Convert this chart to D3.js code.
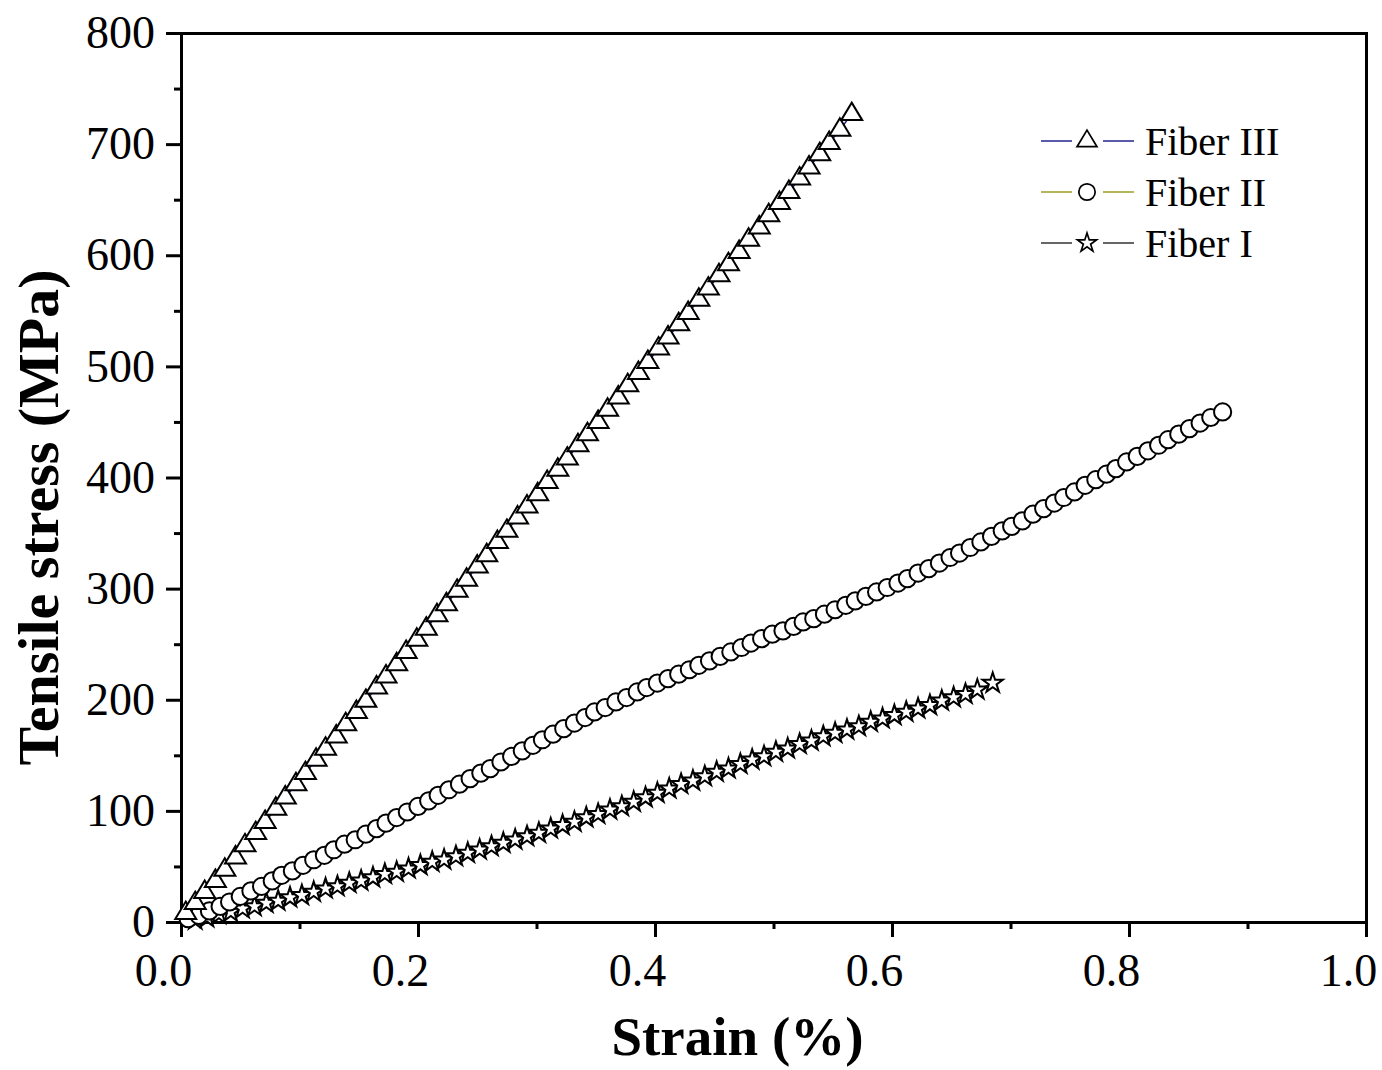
<!DOCTYPE html>
<html>
<head>
<meta charset="utf-8">
<title>Tensile stress vs strain</title>
<script src="https://cdn.jsdelivr.net/npm/d3@7"></script>
<style>
    body { margin: 0; background: #fff; }
    #chart-area { width: 1382px; height: 1070px; }
    text { font-family: "Times New Roman", "Liberation Serif", serif; fill: #000; }
</style>
</head>
<body>
<div id="chart-area"></div>
<script>

// ---- data ----
let seriesNames = ["Fiber III", "Fiber II", "Fiber I"];
let seriesColors = ["#23238f", "#9c9c22", "#333333"];
let seriesSymbols = ["triangle", "circle", "star"];

let xTicks = [0, 0.2, 0.4, 0.6, 0.8, 1.0];
let yTicks = [0, 100, 200, 300, 400, 500, 600, 700, 800];

let fiber3Strain = [0.004, 0.012, 0.020, 0.029, 0.037, 0.046, 0.054, 0.063, 0.071, 0.080, 0.088, 0.097, 0.105, 0.114,
    0.122, 0.131, 0.139, 0.148, 0.156, 0.165, 0.173, 0.182, 0.190, 0.199, 0.207, 0.216, 0.224, 0.233, 0.241, 0.250,
    0.258, 0.267, 0.275, 0.284, 0.292, 0.301, 0.309, 0.318, 0.326, 0.335, 0.343, 0.352, 0.360, 0.369, 0.377, 0.386,
    0.394, 0.403, 0.411, 0.420, 0.428, 0.437, 0.445, 0.454, 0.462, 0.471, 0.479, 0.488, 0.496, 0.505, 0.513, 0.522,
    0.530, 0.539, 0.547, 0.556, 0.566];
let fiber3Stress = [8, 17, 27, 37, 47, 58, 69, 80, 90, 102, 112, 124, 134, 146,
    156, 167, 178, 189, 199, 211, 221, 232, 243, 254, 264, 276, 286, 298, 308, 320,
    330, 342, 352, 364, 374, 385, 396, 407, 417, 429, 439, 450, 461, 472, 483, 494,
    504, 516, 526, 538, 548, 560, 570, 582, 592, 603, 614, 625, 636, 647, 657, 669,
    679, 691, 701, 713, 727];

let fiber2Strain = [0.006, 0.015, 0.024, 0.033, 0.041, 0.050, 0.059, 0.068, 0.077, 0.085, 0.094, 0.103, 0.112, 0.121,
    0.129, 0.138, 0.147, 0.156, 0.165, 0.173, 0.182, 0.191, 0.200, 0.209, 0.217, 0.226, 0.235, 0.244, 0.253, 0.261,
    0.270, 0.279, 0.288, 0.297, 0.305, 0.314, 0.323, 0.332, 0.341, 0.349, 0.358, 0.367, 0.376, 0.385, 0.393, 0.402,
    0.411, 0.420, 0.429, 0.437, 0.446, 0.455, 0.464, 0.473, 0.481, 0.490, 0.499, 0.508, 0.517, 0.525, 0.534, 0.543,
    0.552, 0.561, 0.569, 0.578, 0.587, 0.596, 0.605, 0.613, 0.622, 0.631, 0.640, 0.649, 0.657, 0.666, 0.675, 0.684,
    0.693, 0.701, 0.710, 0.719, 0.728, 0.737, 0.745, 0.754, 0.763, 0.772, 0.781, 0.789, 0.798, 0.807, 0.816, 0.825,
    0.833, 0.842, 0.851, 0.860, 0.869, 0.879];
let fiber2Stress = [3, 6, 10, 14, 18, 23, 28, 32, 37, 42, 46, 51, 56, 60,
    65, 70, 74, 79, 84, 89, 94, 99, 104, 109, 114, 119, 124, 129, 134, 138,
    144, 149, 154, 159, 164, 169, 174, 179, 184, 189, 193, 198, 202, 207, 211, 215,
    219, 223, 227, 231, 235, 239, 243, 247, 251, 255, 259, 262, 266, 270, 273, 277,
    281, 285, 289, 293, 297, 301, 305, 309, 314, 318, 323, 328, 332, 337, 342, 347,
    352, 356, 361, 367, 372, 377, 382, 387, 393, 398, 403, 408, 414, 419, 424, 429,
    434, 439, 444, 449, 454, 459];

let fiber1Strain = [0.012, 0.022, 0.032, 0.042, 0.052, 0.062, 0.072, 0.082, 0.092, 0.102, 0.112, 0.122, 0.132, 0.142,
    0.152, 0.162, 0.172, 0.182, 0.192, 0.202, 0.212, 0.222, 0.232, 0.242, 0.252, 0.262, 0.272, 0.282, 0.292, 0.302,
    0.312, 0.322, 0.332, 0.342, 0.352, 0.362, 0.372, 0.382, 0.392, 0.402, 0.412, 0.422, 0.432, 0.442, 0.452, 0.462,
    0.472, 0.482, 0.492, 0.502, 0.512, 0.522, 0.532, 0.542, 0.552, 0.562, 0.572, 0.582, 0.592, 0.602, 0.612, 0.622,
    0.632, 0.642, 0.652, 0.662, 0.672, 0.685];
let fiber1Stress = [2, 4, 7, 9, 12, 14, 17, 19, 22, 24, 27, 30, 32, 35,
    37, 40, 43, 45, 48, 51, 54, 56, 59, 62, 65, 68, 71, 74, 77, 80,
    84, 87, 90, 94, 97, 101, 104, 108, 112, 116, 120, 124, 127, 131, 135, 138,
    142, 146, 149, 153, 156, 160, 163, 167, 170, 173, 176, 180, 183, 186, 189, 192,
    195, 199, 202, 205, 209, 215];


class StressStrainVis {

    constructor(parentElement) {
        this.parentElement = parentElement;
        this.displayData = [];
        this.initVis();
    }

    initVis() {
        let vis = this;

        // margin conventions
        vis.margin = {top: 33, right: 16, bottom: 148, left: 181};
        vis.width = 1382 - vis.margin.left - vis.margin.right;
        vis.height = 1070 - vis.margin.top - vis.margin.bottom;

        vis.svg = d3.select("#" + vis.parentElement).append("svg")
            .attr("width", vis.width + vis.margin.left + vis.margin.right)
            .attr("height", vis.height + vis.margin.top + vis.margin.bottom)
            .append("g")
            .attr("transform", `translate(${vis.margin.left}, ${vis.margin.top})`);

        vis.x = d3.scaleLinear().domain([0, 1.0]).range([0, vis.width]);
        vis.y = d3.scaleLinear().domain([0, 800]).range([vis.height, 0]);

        // minor ticks first, then the major axes on top
        vis.svg.append("g")
            .attr("class", "axis minor")
            .attr("transform", `translate(0, ${vis.height})`)
            .call(d3.axisBottom(vis.x).tickValues(d3.range(0.1, 1.0, 0.2)).tickSize(7).tickSizeOuter(0).tickFormat(""));
        vis.svg.append("g")
            .attr("class", "axis minor")
            .call(d3.axisLeft(vis.y).tickValues(d3.range(50, 800, 100)).tickSize(7).tickSizeOuter(0).tickFormat(""));

        vis.svg.append("g")
            .attr("class", "axis x-axis")
            .attr("transform", `translate(0, ${vis.height})`)
            .call(d3.axisBottom(vis.x).tickValues(xTicks).tickSize(15).tickSizeOuter(0).tickPadding(16).tickFormat(d3.format(".1f")));
        vis.svg.append("g")
            .attr("class", "axis y-axis")
            .call(d3.axisLeft(vis.y).tickValues(yTicks).tickSize(15).tickSizeOuter(0).tickPadding(11).tickFormat(d3.format("d")));

        // the original's x labels sit a bit left of their ticks
        vis.svg.selectAll(".x-axis .tick text").attr("dx", -18);

        // top and right frame, no ticks
        vis.svg.append("g")
            .attr("class", "axis")
            .call(d3.axisTop(vis.x).tickValues([]).tickSizeOuter(0));
        vis.svg.append("g")
            .attr("class", "axis")
            .attr("transform", `translate(${vis.width}, 0)`)
            .call(d3.axisRight(vis.y).tickValues([]).tickSizeOuter(0));

        vis.svg.selectAll(".axis .domain")
            .attr("stroke", "#000")
            .attr("stroke-width", 3)
            .attr("stroke-linecap", "square");
        vis.svg.selectAll(".axis .tick line")
            .attr("stroke", "#000")
            .attr("stroke-width", 3);
        vis.svg.selectAll(".axis .tick text")
            .style("font-size", "46px")
            .style("font-family", "'Times New Roman', 'Liberation Serif', serif")
            .attr("fill", "#000");

        // axis titles
        vis.svg.append("text")
            .attr("x", vis.width / 2 - 36)
            .attr("y", vis.height + 133)
            .attr("text-anchor", "middle")
            .style("font-size", "55px")
            .style("font-weight", "bold")
            .text("Strain (%)");

        vis.svg.append("text")
            .attr("transform", `translate(${58 - vis.margin.left}, ${vis.height / 2 + 40}) rotate(-90)`)
            .attr("text-anchor", "middle")
            .style("font-size", "58px")
            .style("font-weight", "bold")
            .text("Tensile stress (MPa)");

        vis.marks = vis.svg.append("g").attr("class", "marks");
        vis.legend = vis.svg.append("g").attr("class", "legend");

        vis.wrangleData();
    }

    wrangleData() {
        let vis = this;

        let strains = [fiber3Strain, fiber2Strain, fiber1Strain];
        let stresses = [fiber3Stress, fiber2Stress, fiber1Stress];

        vis.displayData = seriesNames.map((name, i) => ({
            name: name,
            color: seriesColors[i],
            symbol: seriesSymbols[i],
            values: strains[i].map((s, j) => ({strain: s, stress: stresses[i][j]}))
        }));

        vis.updateVis();
    }

    symbolPath(type) {
        if (type === "triangle") return "M0,-11.5L10.5,6L-10.5,6Z";
        if (type === "circle") return d3.symbol(d3.symbolCircle, Math.PI * 8.6 * 8.6)();
        return d3.symbol(d3.symbolStar, 125)();
    }

    updateVis() {
        let vis = this;

        let line = d3.line()
            .x(d => vis.x(d.strain))
            .y(d => vis.y(d.stress));

        // draw Fiber I first so the upper curves sit on top, same as the original
        let order = vis.displayData.slice().reverse();

        let groups = vis.marks.selectAll(".series")
            .data(order)
            .enter().append("g")
            .attr("class", "series");

        groups.append("path")
            .attr("d", d => line(d.values))
            .attr("fill", "none")
            .attr("stroke", d => d.color)
            .attr("stroke-width", 1.5);

        groups.each(function(d) {
            d3.select(this).selectAll(".pt")
                .data(d.values)
                .enter().append("path")
                .attr("class", "pt")
                .attr("transform", p => `translate(${vis.x(p.strain)}, ${vis.y(p.stress)})`)
                .attr("d", vis.symbolPath(d.symbol))
                .attr("fill", "#fff")
                .attr("stroke", "#000")
                .attr("stroke-width", 2);
        });

        // legend
        let rows = vis.legend.selectAll(".row")
            .data(vis.displayData)
            .enter().append("g")
            .attr("class", "row")
            .attr("transform", (d, i) => `translate(${1041 - vis.margin.left}, ${141 - vis.margin.top + i * 51})`);

        rows.append("line")
            .attr("x1", 0).attr("x2", 31)
            .attr("stroke", d => d.color).attr("stroke-width", 1.5);
        rows.append("line")
            .attr("x1", 62).attr("x2", 93)
            .attr("stroke", d => d.color).attr("stroke-width", 1.5);
        rows.append("path")
            .attr("transform", "translate(46, 0) scale(0.95)")
            .attr("d", d => vis.symbolPath(d.symbol))
            .attr("fill", "#fff")
            .attr("stroke", "#000")
            .attr("stroke-width", 1.8);
        rows.append("text")
            .attr("x", 104)
            .attr("y", 14)
            .style("font-size", "40px")
            .text(d => d.name);
    }
}

let stressStrainVis = new StressStrainVis("chart-area");

</script>
</body>
</html>
